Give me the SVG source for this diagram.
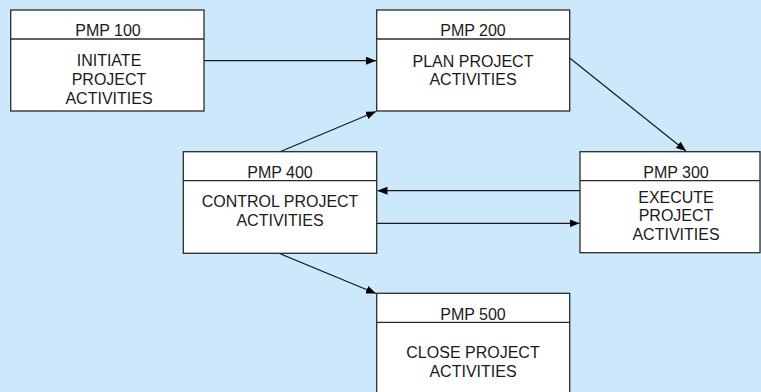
<svg xmlns="http://www.w3.org/2000/svg" width="761" height="392" viewBox="0 0 761 392">
  <style>
    .box { fill: #ffffff; stroke: #2a2a2a; stroke-width: 1.3; }
    .rule { stroke: #2a2a2a; stroke-width: 1.3; }
    .lbl { font-family: "Liberation Sans", Arial, sans-serif; font-size: 16px; fill: #1a1a1a; text-anchor: middle; }
    .edge { stroke: #1a1a1a; stroke-width: 1.2; fill: none; marker-end: url(#arrow); }
  </style>
  <defs>
    <marker id="arrow" viewBox="0 0 10 8" refX="10" refY="4" markerWidth="10" markerHeight="8" markerUnits="userSpaceOnUse" orient="auto">
      <path d="M0,0 L10,4 L0,8 Z" fill="#000"/>
    </marker>
  </defs>
  <rect x="0" y="0" width="761" height="392" fill="#cce8fb"/>

  <g id="connectors">
    <line class="edge" x1="204" y1="60.7" x2="376" y2="60.7"/>
    <line class="edge" x1="569.7" y1="58" x2="686" y2="151"/>
    <line class="edge" x1="280" y1="151.7" x2="376" y2="111.5"/>
    <line class="edge" x1="580" y1="190.7" x2="377.5" y2="190.7"/>
    <line class="edge" x1="376.7" y1="223.3" x2="579.5" y2="223.3"/>
    <line class="edge" x1="279" y1="253.3" x2="376" y2="293.5"/>
  </g>

  <g id="pmp100">
    <rect class="box" x="10.7" y="10" width="193.3" height="101"/>
    <line class="rule" x1="10.7" y1="39" x2="204" y2="39"/>
    <text class="lbl" x="108" y="36">PMP 100</text>
    <text class="lbl" x="109" y="65.5">INITIATE</text>
    <text class="lbl" x="109" y="84.5">PROJECT</text>
    <text class="lbl" x="109" y="103.5">ACTIVITIES</text>
  </g>

  <g id="pmp200">
    <rect class="box" x="376.7" y="10" width="193" height="101"/>
    <line class="rule" x1="376.7" y1="39" x2="569.7" y2="39"/>
    <text class="lbl" x="473" y="36">PMP 200</text>
    <text class="lbl" x="473" y="66.5">PLAN PROJECT</text>
    <text class="lbl" x="473" y="85">ACTIVITIES</text>
  </g>

  <g id="pmp300">
    <rect class="box" x="580" y="151.7" width="180" height="101"/>
    <line class="rule" x1="580" y1="180.7" x2="760" y2="180.7"/>
    <text class="lbl" x="676" y="178.3">PMP 300</text>
    <text class="lbl" x="676" y="202.5">EXECUTE</text>
    <text class="lbl" x="676" y="221">PROJECT</text>
    <text class="lbl" x="676" y="239.5">ACTIVITIES</text>
  </g>

  <g id="pmp400">
    <rect class="box" x="183.3" y="151.7" width="193.4" height="101.6"/>
    <line class="rule" x1="183.3" y1="180.7" x2="376.7" y2="180.7"/>
    <text class="lbl" x="280" y="178.3">PMP 400</text>
    <text class="lbl" x="280" y="206.5">CONTROL PROJECT</text>
    <text class="lbl" x="280" y="225.7">ACTIVITIES</text>
  </g>

  <g id="pmp500">
    <rect class="box" x="376.7" y="293.3" width="193" height="110"/>
    <line class="rule" x1="376.7" y1="322.3" x2="569.7" y2="322.3"/>
    <text class="lbl" x="473" y="320">PMP 500</text>
    <text class="lbl" x="473" y="358.3">CLOSE PROJECT</text>
    <text class="lbl" x="473" y="376.7">ACTIVITIES</text>
  </g>
</svg>
